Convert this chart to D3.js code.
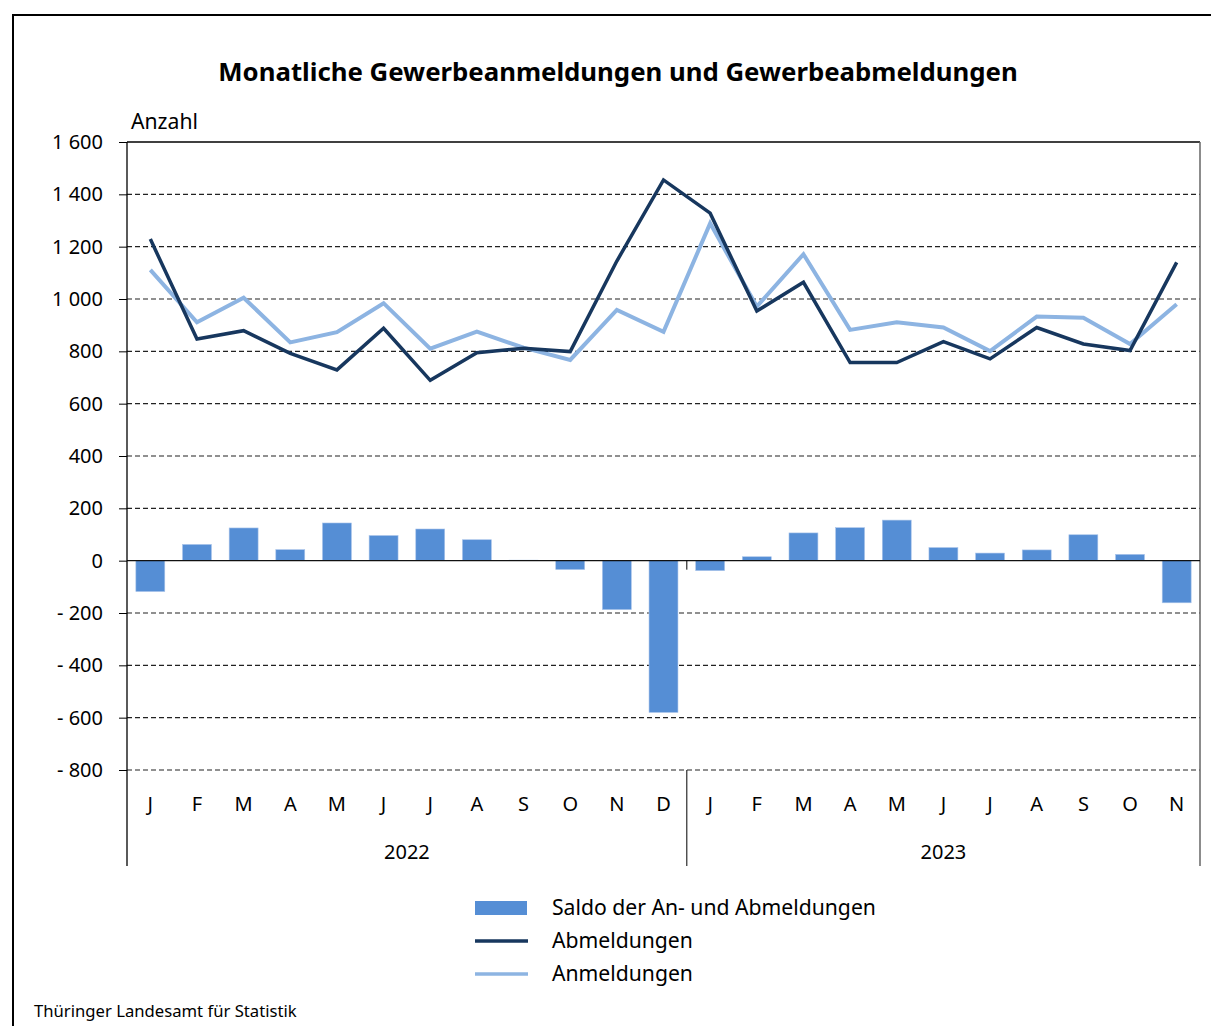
<!DOCTYPE html>
<html>
<head>
<meta charset="utf-8">
<script src="https://cdn.jsdelivr.net/npm/d3@7"></script>
<style>
  body { margin: 0; background: #fff; }
  svg { font-family: "Noto Sans", "Open Sans", sans-serif; }
</style>
</head>
<body>
<div id="chart"></div>
<script>
// ==== data ====
const months = ["J","F","M","A","M","J","J","A","S","O","N","D",
                "J","F","M","A","M","J","J","A","S","O","N"];
const years = [
  { label: "2022", count: 12 },
  { label: "2023", count: 11 }
];
const anmeldungen = [1111, 911, 1005, 834, 873, 984, 810, 875, 814, 767, 958, 875,
                     1289, 971, 1171, 882, 911, 891, 801, 933, 928, 828, 980];
const abmeldungen = [1229, 847, 879, 792, 729, 888, 689, 795, 812, 799, 1145, 1455,
                     1328, 954, 1064, 757, 757, 837, 771, 891, 828, 803, 1140];
const saldo = [-118, 62, 125, 42, 144, 96, 121, 80, 2, -34, -187, -580,
               -38, 15, 106, 126, 155, 50, 29, 41, 99, 24, -161];
const yTicks = d3.range(-800, 1601, 200);

const colBar = "#558ed5", colAb = "#17375e", colAn = "#8db4e2";

// ==== setup ====
const W = 1211, H = 1026;
const plotL = 127, plotR = 1200, plotT = 142, plotB = 770, axisEnd = 866;

const svg = d3.select("#chart").append("svg")
  .attr("width", W).attr("height", H);

// shrink/grow font so a text spans the same width as in the reference
function fitWidth(sel, size, target) {
  const w = sel.node().getComputedTextLength();
  sel.attr("font-size", size * target / w);
  return sel;
}

// outer frame (open to the right and bottom)
svg.append("path")
  .attr("d", `M13,${H + 5} L13,15 L${W + 5},15`)
  .attr("fill", "none").attr("stroke", "#000").attr("stroke-width", 2);

// title
const title = svg.append("text")
  .attr("x", 618).attr("y", 81)
  .attr("text-anchor", "middle")
  .attr("font-weight", "bold").attr("font-size", 26)
  .text("Monatliche Gewerbeanmeldungen und Gewerbeabmeldungen");
fitWidth(title, 26, 800);

fitWidth(svg.append("text").attr("x", 131).attr("y", 129)
  .attr("font-size", 20).text("Anzahl"), 20, 67);

// scales
const x = d3.scaleBand().domain(d3.range(months.length))
  .range([plotL, plotR]).paddingInner(0.38).paddingOuter(0.19);
const xc = i => x(i) + x.bandwidth() / 2;
const y = d3.scaleLinear().domain([-800, 1600]).range([plotB, plotT]);

// gridlines
const fmtNum = d3.formatLocale({ thousands: " ", grouping: [3], decimal: ",", currency: ["", ""] }).format(",");
const fmtTick = v => v < 0 ? "- " + fmtNum(-v) : fmtNum(v);

svg.append("g").selectAll("line")
  .data(yTicks.filter(v => v !== 0 && v !== 1600))
  .join("line")
  .attr("x1", plotL).attr("x2", plotR)
  .attr("y1", d => y(d)).attr("y2", d => y(d))
  .attr("stroke", "#222").attr("stroke-width", 1.2)
  .attr("stroke-dasharray", "5,3");

// top border + right border
svg.append("line").attr("x1", plotL).attr("x2", plotR)
  .attr("y1", plotT).attr("y2", plotT).attr("stroke", "#000").attr("stroke-width", 1.3);
svg.append("line").attr("x1", plotR).attr("x2", plotR)
  .attr("y1", plotT).attr("y2", axisEnd).attr("stroke", "#666").attr("stroke-width", 1.5);

// bars
svg.append("g").selectAll("rect")
  .data(saldo)
  .join("rect")
  .attr("x", (d, i) => x(i))
  .attr("width", x.bandwidth())
  .attr("y", d => y(Math.max(0, d)))
  .attr("height", d => Math.abs(y(d) - y(0)))
  .attr("fill", colBar)
  .attr("stroke", "#a9c4ea").attr("stroke-width", 0.6);

// zero line
svg.append("line").attr("x1", plotL).attr("x2", plotR)
  .attr("y1", y(0)).attr("y2", y(0)).attr("stroke", "#111").attr("stroke-width", 1.2);

// y axis
const yAxis = svg.append("g")
  .attr("transform", `translate(${plotL},0)`)
  .call(d3.axisLeft(y).tickValues(yTicks).tickFormat(fmtTick).tickSize(8).tickPadding(16));
yAxis.select(".domain").remove();
yAxis.selectAll(".tick line").attr("stroke", "#000");
yAxis.selectAll(".tick text")
  .attr("font-size", 20).attr("fill", "#000")
  .attr("font-family", "'Noto Sans', 'Open Sans', sans-serif");
svg.append("line").attr("x1", plotL).attr("x2", plotL)
  .attr("y1", plotT).attr("y2", axisEnd).attr("stroke", "#000").attr("stroke-width", 1.3);

// lines
const lineGen = d3.line().x((d, i) => xc(i)).y(d => y(d));
svg.append("path").datum(anmeldungen)
  .attr("d", lineGen).attr("fill", "none")
  .attr("stroke", colAn).attr("stroke-width", 4).attr("stroke-linejoin", "miter");
svg.append("path").datum(abmeldungen)
  .attr("d", lineGen).attr("fill", "none")
  .attr("stroke", colAb).attr("stroke-width", 3.5).attr("stroke-linejoin", "miter");

// category axis
svg.append("g").selectAll("text")
  .data(months)
  .join("text")
  .attr("x", (d, i) => xc(i)).attr("y", 811)
  .attr("text-anchor", "middle").attr("font-size", 20)
  .text(d => d);

let start = 0;
years.forEach((yr, k) => {
  const x0 = x.step() * start + plotL;
  const x1 = x.step() * (start + yr.count) + plotL;
  svg.append("text")
    .attr("x", (x0 + Math.min(x1, plotR)) / 2).attr("y", 859)
    .attr("text-anchor", "middle").attr("font-size", 20)
    .text(yr.label);
  if (k > 0) {
    svg.append("line").attr("x1", x0).attr("x2", x0)
      .attr("y1", plotB).attr("y2", axisEnd).attr("stroke", "#000");
    svg.append("line").attr("x1", x0).attr("x2", x0)
      .attr("y1", y(0)).attr("y2", y(0) + 9).attr("stroke", "#000");
  }
  start += yr.count;
});

// legend
const legend = svg.append("g");
legend.append("rect").attr("x", 475).attr("y", 901).attr("width", 52).attr("height", 14)
  .attr("fill", colBar);
legend.append("line").attr("x1", 475).attr("x2", 528).attr("y1", 941).attr("y2", 941)
  .attr("stroke", colAb).attr("stroke-width", 3.5);
legend.append("line").attr("x1", 475).attr("x2", 528).attr("y1", 974).attr("y2", 974)
  .attr("stroke", colAn).attr("stroke-width", 3.5);
const legItems = [["Saldo der An- und Abmeldungen", 908], ["Abmeldungen", 941], ["Anmeldungen", 974]];
const first = legend.append("text").attr("x", 552).attr("y", 915)
  .attr("font-size", 21).text(legItems[0][0]);
fitWidth(first, 21, 324);
const legSize = +first.attr("font-size");
legItems.slice(1).forEach(([t, yy]) => {
  legend.append("text").attr("x", 552).attr("y", yy + 7)
    .attr("font-size", legSize).text(t);
});

// source
fitWidth(svg.append("text").attr("x", 34).attr("y", 1017)
  .attr("font-size", 16).text("Thüringer Landesamt für Statistik"), 16, 263);
</script>
</body>
</html>
